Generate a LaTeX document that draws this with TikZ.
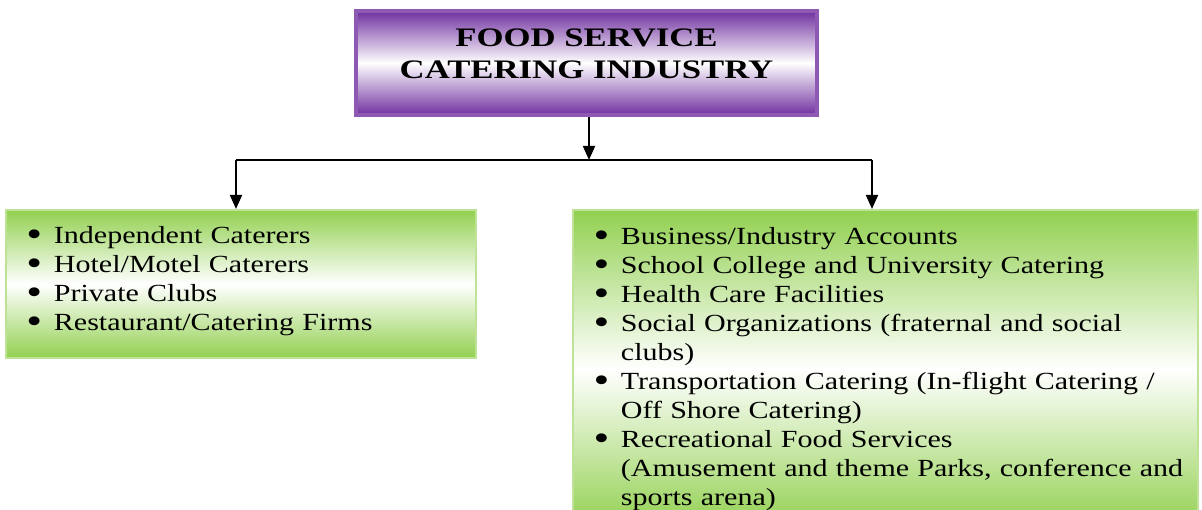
\documentclass[tikz,border=0pt]{standalone}
\usepackage{fontspec}
\setmainfont{Liberation Serif}[FakeStretch=1.22]
\newfontfamily\headfont{Liberation Serif}[FakeStretch=1.3]
\usetikzlibrary{arrows.meta}

\definecolor{headpurple}{RGB}{112,48,160}
\definecolor{boxgreen}{RGB}{146,208,80}

\newcommand{\bitem}[1]{\mbox{\makebox[6.5pt][l]{\hspace*{-1.3pt}\smash{\raisebox{-0.25ex}{\fontsize{10.5}{0}\selectfont\textbullet}}}#1}}
\newcommand{\citem}[1]{\mbox{\hspace*{6.5pt}#1}}

\tikzset{
  headbox/.style={draw=headpurple!80, line width=1pt, top color=headpurple, bottom color=headpurple,
    middle color=white, minimum width=4.61cm, minimum height=1.04cm, align=center,
    font=\headfont\fontsize{7.6}{9.1}\selectfont\bfseries},
  listbox/.style={draw=boxgreen!60, line width=0.6pt, top color=boxgreen, bottom color=boxgreen,
    middle color=white, inner xsep=0.25cm, align=left,
    font=\fontsize{7.0}{8.25}\selectfont},
  link/.style={line width=0.6pt, -{Triangle[length=4pt,width=3.4pt]}}
}

\begin{document}
\begin{tikzpicture}[x=0.01cm,y=-0.01cm]
\useasboundingbox (0,0) rectangle (1202,510);

\node[headbox] (head) at (586.5,63) {FOOD SERVICE\\CATERING INDUSTRY\rule[-5.1pt]{0pt}{5.1pt}};

\node[listbox, anchor=north west, minimum width=4.70cm, minimum height=1.48cm, text width=4.20cm] (left) at (5,209) {%
\bitem{Independent Caterers}\\
\bitem{Hotel/Motel Caterers}\\
\bitem{Private Clubs}\\
\bitem{Restaurant/Catering Firms}\rule[-3.2pt]{0pt}{3.2pt}};

\node[listbox, anchor=north west, minimum width=6.25cm, minimum height=3.18cm, text width=5.75cm] (right) at (572,209) {%
\bitem{Business/Industry Accounts}\\
\bitem{School College and University Catering}\\
\bitem{Health Care Facilities}\\
\bitem{Social Organizations (fraternal and social}\\
\citem{clubs)}\\
\bitem{Transportation Catering (In-flight Catering /}\\
\citem{Off Shore Catering)}\\
\bitem{Recreational Food Services}\\
\citem{(Amusement and theme Parks, conference and}\\
\citem{sports arena)}};

% connectors
\coordinate (split) at (589,160);
\coordinate (lefttop) at (236,160);
\coordinate (righttop) at (872,160);
\draw[link] (head.south -| split) -- (split);
\draw[line width=0.6pt] (lefttop) -- (righttop);
\draw[link] (lefttop) -- (lefttop |- left.north);
\draw[link] (righttop) -- (righttop |- right.north);
\end{tikzpicture}
\end{document}
